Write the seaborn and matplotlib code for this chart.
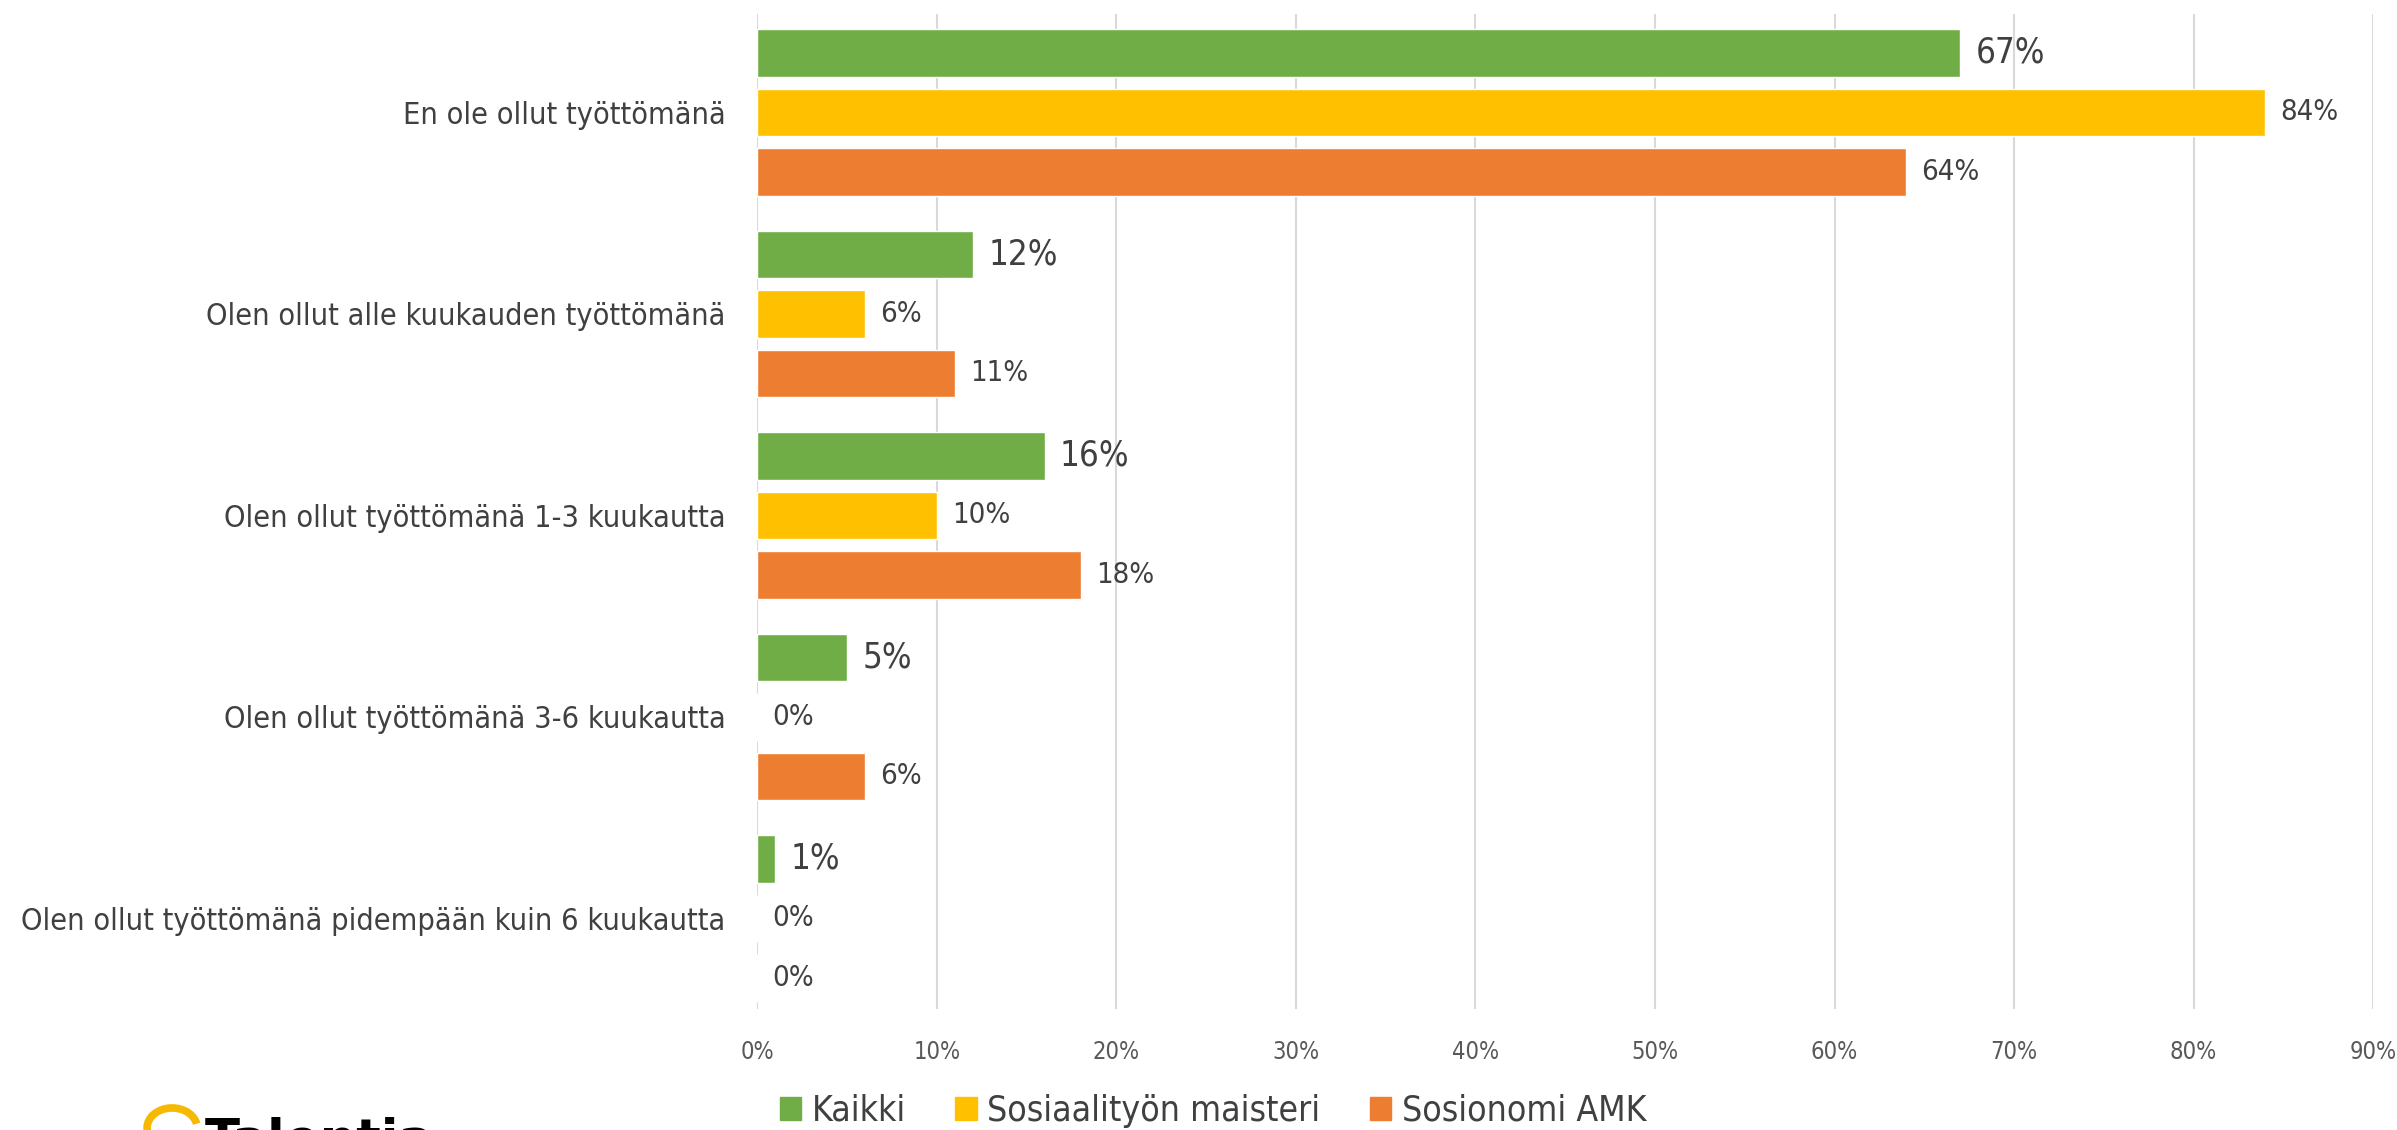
import pandas as pd
import matplotlib.pyplot as plt
import seaborn as sns
from matplotlib.patches import Arc
from matplotlib.ticker import PercentFormatter

# chart data
categories = [
    "En ole ollut työttömänä",
    "Olen ollut alle kuukauden työttömänä",
    "Olen ollut työttömänä 1-3 kuukautta",
    "Olen ollut työttömänä 3-6 kuukautta",
    "Olen ollut työttömänä pidempään kuin 6 kuukautta",
]
series = ["Kaikki", "Sosiaalityön maisteri", "Sosionomi AMK"]
kaikki = [0.67, 0.12, 0.16, 0.05, 0.01]
maisteri = [0.84, 0.06, 0.10, 0.00, 0.00]
sosionomi = [0.64, 0.11, 0.18, 0.06, 0.00]
colors = ["#70AD47", "#FFC000", "#ED7D31"]

df = pd.DataFrame({"cat": categories, series[0]: kaikki,
                   series[1]: maisteri, series[2]: sosionomi})
long = df.melt(id_vars="cat", var_name="group", value_name="share")

sns.set_style("white")
plt.rcParams["font.family"] = ["DejaVu Sans"]
plt.rcParams["font.stretch"] = "condensed"

fig = plt.figure(figsize=(23.97, 11.30), dpi=100)
ax = fig.add_axes([0.316, 0.107, 0.674, 0.881])

sns.barplot(data=long, y="cat", x="share", hue="group", order=categories,
            hue_order=series, palette=colors, width=0.886, gap=0.2,
            orient="h", saturation=1, ax=ax, legend=False)

# value labels (first series is printed larger)
label_sizes = [25, 21, 21]
for cont, fs in zip(ax.containers, label_sizes):
    ax.bar_label(cont, labels=[f"{v * 100:.0f}%" for v in cont.datavalues],
                 padding=11, fontsize=fs, color="#404040")

ax.set_xlim(0, 0.9)
ax.set_ylim(4.45, -0.49)
ax.set_xticks([i / 10 for i in range(10)])
ax.xaxis.set_major_formatter(PercentFormatter(1.0, decimals=0))
ax.grid(axis="x", color="#D9D9D9", linewidth=1.5)
ax.set_axisbelow(True)
for s in ax.spines.values():
    s.set_visible(False)
ax.set_xlabel("")
ax.set_ylabel("")
ax.tick_params(axis="x", labelsize=17, labelcolor="#595959", length=0, pad=22)
ax.tick_params(axis="y", labelsize=22, labelcolor="#404040", length=0, pad=23)

# legend below the plot
handles = [plt.Rectangle((0, 0), 1, 1, color=c) for c in colors]
fig.legend(handles, series, loc="center", bbox_to_anchor=(0.506, 0.017),
           ncol=3, frameon=False, fontsize=25.5, labelcolor="#404040",
           handlelength=0.6, handleheight=0.6, handletextpad=0.3,
           columnspacing=1.4)

# logo, cut off at the bottom edge like in the source
fig.text(0.0855, 0.012, "Talentia", fontsize=37, fontweight="bold",
         color="black", va="top", ha="left", fontstretch="normal")
fig.add_artist(Arc((0.0718, 0.0018), 0.0209, 0.0354, theta1=20, theta2=200,
                   transform=fig.transFigure, color="#F6B800", linewidth=5.5))

fig.savefig("out.png", dpi=100)
